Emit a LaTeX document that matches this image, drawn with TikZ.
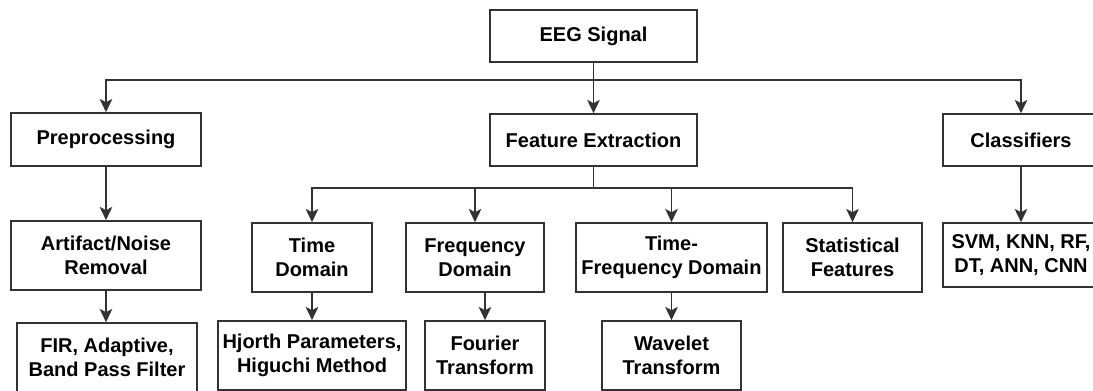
\documentclass[tikz,border=0pt]{standalone}
\usepackage{fontspec}
\setmainfont{Liberation Sans}
\usetikzlibrary{arrows.meta}
\definecolor{linegray}{HTML}{333333}
\tikzset{
  box/.style={draw=linegray, line width=1.2pt, fill=white, align=center, inner sep=2pt,
    font=\fontsize{15}{18}\selectfont\bfseries},
  arr/.style={draw=linegray, line width=1.1pt, -{Stealth[length=10pt, width=9.5pt, inset=2.5pt]}},
  link/.style={draw=linegray, line width=1.1pt}
}
\begin{document}
\begin{tikzpicture}[x=0.75pt, y=-0.75pt]
  \useasboundingbox (0, 0) rectangle (1093, 390);
  \node[box, minimum width=155.25pt, minimum height=39pt] (eeg) at (593.5, 36) {EEG Signal};
  \node[box, minimum width=142.5pt, minimum height=39.75pt] (pre) at (106, 139.5) {Preprocessing};
  \node[box, minimum width=155.25pt, minimum height=39pt] (fe) at (593.5, 140) {Feature Extraction};
  \node[box, minimum width=117pt, minimum height=39pt] (cls) at (1021, 140) {Classifiers};

  \node[box, minimum width=142.5pt, minimum height=51.75pt] (art) at (106, 255.5) {Artifact/Noise\\Removal};
  \node[box, minimum width=90pt, minimum height=51.75pt] (time) at (312, 257.5) {Time\\Domain};
  \node[box, minimum width=103.5pt, minimum height=51.75pt] (freq) at (475, 257.5) {Frequency\\Domain};
  \node[box, minimum width=143.25pt, minimum height=51.75pt] (tf) at (671.5, 257.5) {Time-\\Frequency Domain};
  \node[box, minimum width=104.25pt, minimum height=51.75pt] (stat) at (852.5, 257.5) {Statistical\\Features};
  \node[box, minimum width=117pt, minimum height=48pt] (svm) at (1021, 255) {SVM, KNN, RF,\\DT, ANN, CNN};

  \node[box, minimum width=135pt, minimum height=51.75pt] (fir) at (107, 357.5) {FIR, Adaptive,\\Band Pass Filter};
  \node[box, minimum width=141pt, minimum height=51.75pt] (hjorth) at (312, 355.5) {Hjorth Parameters,\\Higuchi Method};
  \node[box, minimum width=90pt, minimum height=51.75pt] (fourier) at (485, 355.5) {Fourier\\Transform};
  \node[box, minimum width=104.25pt, minimum height=51.75pt] (wav) at (671.5, 355.5) {Wavelet\\Transform};

  \coordinate (eegsplit) at (593.5, 80);
  \coordinate (fesplit) at (593.5, 188);

  \draw[arr] (eeg) -- (fe);
  \draw[arr] (eegsplit) -| (pre.north);
  \draw[arr] (eegsplit) -| (cls.north);
  \draw[link] (fe.south) -- (fesplit);
  \foreach \n in {time, freq, tf, stat} {
    \draw[arr] (fesplit) -| (\n.north);
  }
  \draw[arr] (pre) -- (art);
  \draw[arr] (art.south) -- (art.south |- fir.north);
  \draw[arr] (time) -- (hjorth);
  \draw[arr] (freq.south -| fourier.north) -- (fourier.north);
  \draw[arr] (tf) -- (wav);
  \draw[arr] (cls) -- (svm);
\end{tikzpicture}
\end{document}
